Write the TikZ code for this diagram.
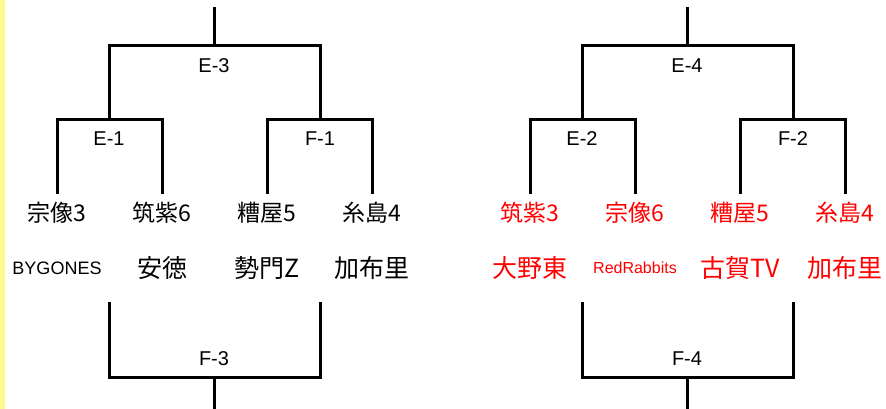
\documentclass[tikz,border=0pt]{standalone}
\usepackage{fontspec}
\setmainfont{Liberation Sans}
\newfontfamily\cjk{Noto Sans CJK JP}
\begin{document}
\begin{tikzpicture}[x=1pt,y=1pt,
  br/.style={line width=3pt,line cap=rect,line join=miter},
  lbl/.style={font=\fontsize{20}{20}\selectfont,inner sep=0pt},
  team/.style={font=\cjk\fontsize{23}{23}\selectfont,inner sep=0pt},
  club/.style={font=\cjk\fontsize{25}{25}\selectfont,inner sep=0pt},
  clubsm/.style={font=\fontsize{18}{18}\selectfont,inner sep=0pt},
  redt/.style={text=red}]
\useasboundingbox (0,0) rectangle (886,409);
\fill[yellow!45] (0,0) rectangle (5,409);
% ---------- left bracket ----------
\coordinate (Ltop) at (214,400);
\coordinate (Lmid) at (214,363);
\coordinate (LE3a) at (109,363);
\coordinate (LE3b) at (320,363);
\coordinate (LE1) at (109,289);
\coordinate (LF1) at (320,289);
\coordinate (LE1a) at (57,289);
\coordinate (LE1b) at (162,289);
\coordinate (LF1a) at (267,289);
\coordinate (LF1b) at (372,289);
\coordinate (LT1) at (57,216);
\coordinate (LT2) at (162,216);
\coordinate (LT3) at (267,216);
\coordinate (LT4) at (372,216);
\coordinate (LB1) at (109,105);
\coordinate (LB2) at (320,105);
\coordinate (LB1e) at (109,31);
\coordinate (LB2e) at (320,31);
\coordinate (LBmid) at (214,31);
\coordinate (LBend) at (214,0);
\draw[br] (Ltop) -- (Lmid);
\draw[br] (LE1) -- (LE3a) -- (LE3b) -- (LF1);
\draw[br] (LT1) -- (LE1a) -- (LE1b) -- (LT2);
\draw[br] (LT3) -- (LF1a) -- (LF1b) -- (LT4);
\draw[br] (LB1) -- (LB1e) -- (LB2e) -- (LB2);
\draw[br] (LBmid) -- (LBend);
\node[lbl] (LE3l) at (214,343) {E-3};
\node[lbl] (LE1l) at (109,270) {E-1};
\node[lbl] (LF1l) at (320,270) {F-1};
\node[lbl] (LF3l) at (214,50) {F-3};
\node[team] (Lt1) at (57,196) {宗像3};
\node[team] (Lt2) at (162,196) {筑紫6};
\node[team] (Lt3) at (267,196) {糟屋5};
\node[team] (Lt4) at (372,196) {糸島4};
\node[clubsm] (Lc1) at (57,141) {BYGONES};
\node[club] (Lc2) at (162,141) {安徳};
\node[club] (Lc3) at (267,141) {勢門Z};
\node[club] (Lc4) at (372,141) {加布里};
% ---------- right bracket ----------
\coordinate (Rtop) at (687,400);
\coordinate (Rmid) at (687,363);
\coordinate (RE3a) at (582,363);
\coordinate (RE3b) at (793,363);
\coordinate (RE1) at (582,289);
\coordinate (RF1) at (793,289);
\coordinate (RE1a) at (530,289);
\coordinate (RE1b) at (635,289);
\coordinate (RF1a) at (740,289);
\coordinate (RF1b) at (845,289);
\coordinate (RT1) at (530,216);
\coordinate (RT2) at (635,216);
\coordinate (RT3) at (740,216);
\coordinate (RT4) at (845,216);
\coordinate (RB1) at (582,105);
\coordinate (RB2) at (793,105);
\coordinate (RB1e) at (582,31);
\coordinate (RB2e) at (793,31);
\coordinate (RBmid) at (687,31);
\coordinate (RBend) at (687,0);
\draw[br] (Rtop) -- (Rmid);
\draw[br] (RE1) -- (RE3a) -- (RE3b) -- (RF1);
\draw[br] (RT1) -- (RE1a) -- (RE1b) -- (RT2);
\draw[br] (RT3) -- (RF1a) -- (RF1b) -- (RT4);
\draw[br] (RB1) -- (RB1e) -- (RB2e) -- (RB2);
\draw[br] (RBmid) -- (RBend);
\node[lbl] (RE4l) at (687,343) {E-4};
\node[lbl] (RE2l) at (582,270) {E-2};
\node[lbl] (RF2l) at (793,270) {F-2};
\node[lbl] (RF4l) at (687,50) {F-4};
\node[team,redt] (Rt1) at (530,196) {筑紫3};
\node[team,redt] (Rt2) at (635,196) {宗像6};
\node[team,redt] (Rt3) at (740,196) {糟屋5};
\node[team,redt] (Rt4) at (845,196) {糸島4};
\node[club,redt] (Rc1) at (530,141) {大野東};
\node[redt,inner sep=0pt,font=\fontsize{16}{16}\selectfont] (Rc2) at (635,141) {RedRabbits};
\node[club,redt] (Rc3) at (740,141) {古賀TV};
\node[club,redt] (Rc4) at (845,141) {加布里};
\end{tikzpicture}
\end{document}
